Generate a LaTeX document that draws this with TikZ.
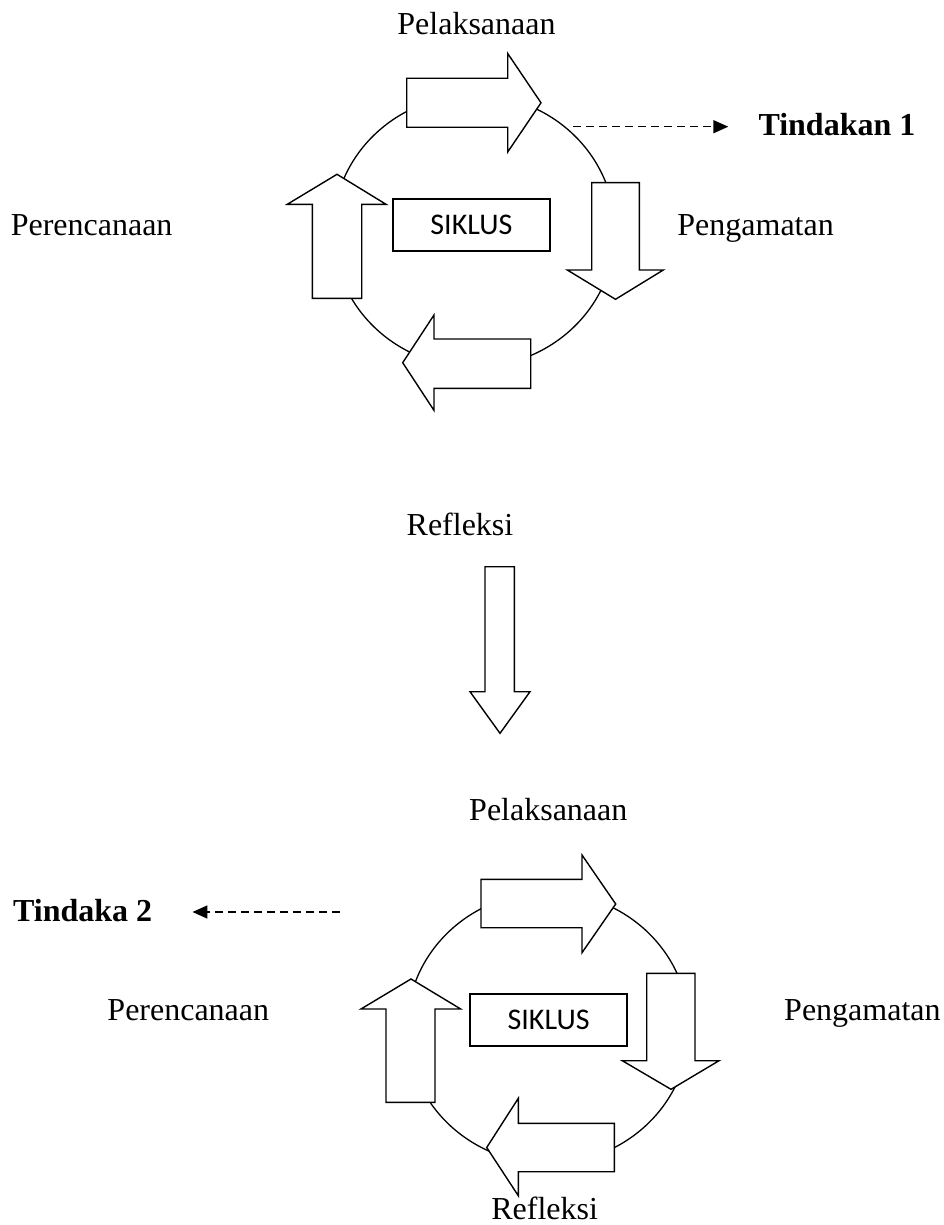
\documentclass[tikz,border=0pt]{standalone}
\usepackage{fontspec}
\setmainfont{Liberation Serif}
\newfontfamily\calibrifont{Carlito}
\usetikzlibrary{arrows.meta}
\begin{document}
\begin{tikzpicture}[x=1pt,y=-1pt,
  lbl/.style={font=\fontsize{32}{38}\selectfont, inner sep=0pt, anchor=base},
  boldlbl/.style={font=\fontsize{32}{38}\selectfont\bfseries, inner sep=0pt, anchor=base west},
  boxlbl/.style={draw, line width=1.4pt, font=\fontsize{30}{34}\calibrifont, inner sep=0pt, minimum width=157pt, minimum height=52pt},
  ring/.style={draw, line width=1.3pt},
  blockarrow/.style={draw, fill=white, line width=1.4pt, line join=miter},
  dasharrow/.style={line width=1.6pt, dash pattern=on 8pt off 5pt, -{Triangle[length=15pt,width=13pt]}}
]
\useasboundingbox (0,0) rectangle (943,1225);

% ---------- first cycle ----------
\draw[ring] (474,231) ellipse [x radius=141, y radius=136];
% Pelaksanaan arrow (right)
\draw[blockarrow] (406.7,78.3) -- (507.7,78.3) -- (507.7,53.5) -- (541,102.8) -- (507.7,152) -- (507.7,127.3) -- (406.7,127.3) -- cycle;
% Pengamatan arrow (down)
\draw[blockarrow] (591.7,182.7) -- (639.3,182.7) -- (639.3,270) -- (663.3,270) -- (615.5,299.3) -- (567.3,270) -- (591.7,270) -- cycle;
% Refleksi arrow (left)
\draw[blockarrow] (530.7,339) -- (434,339) -- (434,315) -- (402.7,362.7) -- (434,410.4) -- (434,388.3) -- (530.7,388.3) -- cycle;
% Perencanaan arrow (up)
\draw[blockarrow] (312.3,298.3) -- (312.3,204.3) -- (287.3,204.3) -- (337,174.3) -- (386,204.3) -- (361.7,204.3) -- (361.7,298.3) -- cycle;

\node[boxlbl] (siklusA) at (471.4,225) {SIKLUS};
\node[lbl] (pelA) at (476.5,35) {Pelaksanaan};
\node[lbl] (perA) at (91.6,235) {Perencanaan};
\node[lbl] (pengA) at (755.6,235) {Pengamatan};
\node[boldlbl] (tindA) at (758.3,135.7) {Tindakan 1};
\coordinate (dashA) at (573,126.7);
\draw[dasharrow, shorten >=30pt] (dashA) -- (dashA -| tindA.west);

% ---------- transition ----------
\node[lbl] (refA) at (460,535) {Refleksi};
\draw[blockarrow] (485,566.7) -- (514.3,566.7) -- (514.3,691.7) -- (530,691.7) -- (500,733.3) -- (470,691.7) -- (485,691.7) -- cycle;

% ---------- second cycle ----------
\draw[ring] (548,1028) ellipse [x radius=141, y radius=135.5];
\draw[blockarrow] (481,879.3) -- (582,879.3) -- (582,855) -- (615.7,904) -- (582,952.7) -- (582,927.7) -- (481,927.7) -- cycle;
\draw[blockarrow] (646.7,973.3) -- (695,973.3) -- (695,1060.7) -- (719,1060.7) -- (671,1089.3) -- (622.3,1060.7) -- (646.7,1060.7) -- cycle;
\draw[blockarrow] (386,1102.3) -- (386,1009) -- (361,1009) -- (411,979) -- (460.7,1009) -- (435,1009) -- (435,1102.3) -- cycle;
\draw[blockarrow] (614.3,1123.3) -- (518.3,1123.3) -- (518.3,1098.3) -- (486.7,1147.5) -- (518.3,1195.7) -- (518.3,1171.7) -- (614.3,1171.7) -- cycle;

\node[boxlbl] (siklusB) at (548.6,1020) {SIKLUS};
\node[lbl] (pelB) at (548.3,820) {Pelaksanaan};
\node[lbl] (perB) at (188.3,1020) {Perencanaan};
\node[lbl, anchor=base west] (pengB) at (784,1020) {Pengamatan};
\node[lbl] (refB) at (544.7,1219) {Refleksi};
\node[boldlbl] (tindB) at (13,921) {Tindaka 2};
\coordinate (dashB) at (340,912);
\draw[dasharrow, shorten >=40pt] (dashB) -- (dashB -| tindB.east);
\end{tikzpicture}
\end{document}
